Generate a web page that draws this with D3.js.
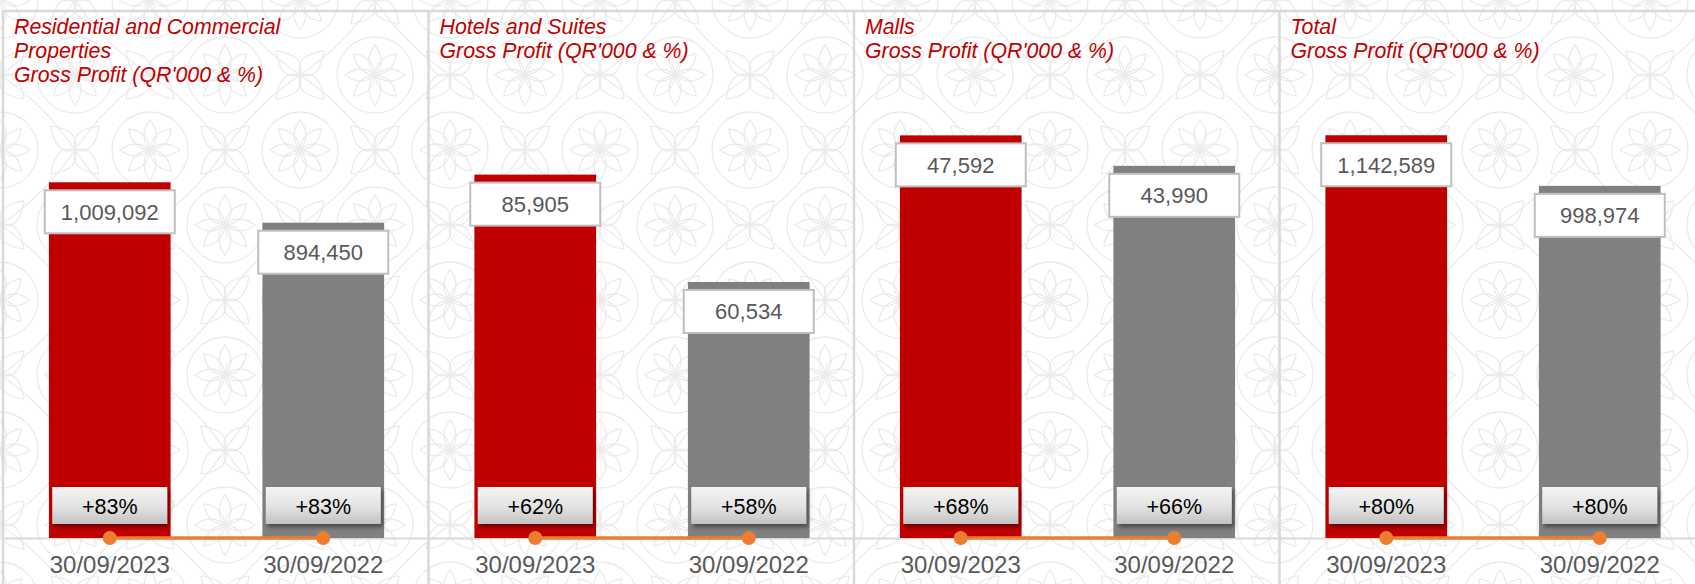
<!DOCTYPE html>
<html>
<head>
<meta charset="utf-8">
<script src="https://cdn.jsdelivr.net/npm/d3@7"></script>
<style>
  html, body { margin: 0; padding: 0; background: #ffffff; }
  svg { display: block; }
  text { font-family: "Liberation Sans", Arial, sans-serif; }
</style>
</head>
<body>
<svg id="chart" width="1695" height="584"></svg>
<script>
// ---------- data ----------
const panelTitles = [
  ["Residential and Commercial", "Properties", "Gross Profit (QR'000 & %)"],
  ["Hotels and Suites", "Gross Profit (QR'000 & %)"],
  ["Malls", "Gross Profit (QR'000 & %)"],
  ["Total", "Gross Profit (QR'000 & %)"]
];
const categories = ["30/09/2023", "30/09/2022"];
const profit2023 = [1009092, 85905, 47592, 1142589];
const profit2022 = [894450, 60534, 43990, 998974];
const margin2023 = [83, 62, 68, 80];
const margin2022 = [83, 58, 66, 80];
const axisMax = [1200000, 100000, 50000, 1200000];

// ---------- layout ----------
const W = 1695, H = 584;
const panelX0 = 3, panelStep = 425.5, panelW = 427;
const topY = 11, baseY = 538, plotTop = 115;
const barColors = ["#c00000", "#808080"];
const orange = "#ed7d31";

const svg = d3.select("#chart");
const defs = svg.append("defs");

// background ornament pattern (decorative)
const T = 150, h = T / 2;
const pat = defs.append("pattern")
  .attr("id", "orn").attr("patternUnits", "userSpaceOnUse")
  .attr("width", T).attr("height", T);
pat.append("rect").attr("width", T).attr("height", T).attr("fill", "#ffffff");
const pg = pat.append("g").attr("fill", "none").attr("stroke", "#ebebeb").attr("stroke-width", 1.3);
[[h, h], [0, 0], [T, 0], [0, T], [T, T]].forEach(([cx, cy]) => {
  for (let k = 0; k < 8; k++) {
    pg.append("path")
      .attr("d", `M${cx},${cy} Q${cx + 12},${cy - 14} ${cx},${cy - 30} Q${cx - 12},${cy - 14} ${cx},${cy}`)
      .attr("transform", `rotate(${k * 45},${cx},${cy})`);
  }
  pg.append("circle").attr("cx", cx).attr("cy", cy).attr("r", 38);
});
[[h, 0], [0, h], [T, h], [h, T]].forEach(([cx, cy]) => {
  for (let k = 0; k < 4; k++) {
    pg.append("path")
      .attr("d", `M${cx},${cy - 34} Q${cx + 18},${cy - 10} ${cx},${cy} Q${cx - 18},${cy - 10} ${cx},${cy - 34}`)
      .attr("transform", `rotate(${k * 90 + 45},${cx},${cy})`);
  }
});
pg.append("path").attr("d", `M0,${h} Q${h*0.6},${h*0.6} ${h},0 M${h},0 Q${T-h*0.6},${h*0.6} ${T},${h} M${T},${h} Q${T-h*0.6},${T-h*0.6} ${h},${T} M${h},${T} Q${h*0.6},${T-h*0.6} 0,${h}`);

svg.append("rect").attr("width", W).attr("height", H).attr("fill", "url(#orn)");

// gradient & shadow for % labels
const grad = defs.append("linearGradient").attr("id", "pctGrad")
  .attr("x1", 0).attr("y1", 0).attr("x2", 0).attr("y2", 1);
grad.append("stop").attr("offset", "0%").attr("stop-color", "#f4f4f4");
grad.append("stop").attr("offset", "55%").attr("stop-color", "#e2e2e2");
grad.append("stop").attr("offset", "100%").attr("stop-color", "#c2c2c2");
const shadow = defs.append("filter").attr("id", "shd")
  .attr("x", "-20%").attr("y", "-30%").attr("width", "150%").attr("height", "180%");
shadow.append("feDropShadow").attr("dx", 2).attr("dy", 3).attr("stdDeviation", 2)
  .attr("flood-color", "#000").attr("flood-opacity", 0.45);

// frame lines
svg.append("line").attr("x1", panelX0).attr("x2", W).attr("y1", topY).attr("y2", topY)
  .attr("stroke", "#d9d9d9").attr("stroke-width", 2.5);

const fmt = d3.format(",");

panelTitles.forEach((title, i) => {
  const x0 = panelX0 + i * panelStep;
  const g = svg.append("g");

  g.append("line").attr("x1", x0).attr("x2", x0).attr("y1", topY).attr("y2", H)
    .attr("stroke", "#d9d9d9").attr("stroke-width", 2.5);

  const x = d3.scaleBand().domain(categories).range([x0, x0 + panelW])
    .paddingInner(0.43).paddingOuter(0.215);
  const y = d3.scaleLinear().domain([0, axisMax[i]]).range([baseY, plotTop]);

  const values = [profit2023[i], profit2022[i]];
  const margins = [margin2023[i], margin2022[i]];

  // title
  const t = g.append("text").attr("x", x0 + 11).attr("y", 34)
    .attr("fill", "#c00000").attr("font-style", "italic").attr("font-size", 21.3);
  title.forEach((line, k) => {
    t.append("tspan").attr("x", x0 + 11).attr("dy", k === 0 ? 0 : 23.8).text(line);
  });

  // x axis
  const ax = g.append("g").attr("transform", `translate(0,${baseY})`)
    .call(d3.axisBottom(x).tickSize(0).tickSizeOuter(0).tickPadding(18));
  ax.select(".domain").attr("stroke", "#d9d9d9").attr("stroke-width", 2);
  ax.selectAll("text").attr("font-size", 24).attr("fill", "#595959")
    .attr("font-family", "'Liberation Sans', Arial, sans-serif");

  // bars
  g.selectAll(".bar").data(categories).join("rect")
    .attr("x", d => x(d)).attr("width", x.bandwidth())
    .attr("y", (d, j) => y(values[j])).attr("height", (d, j) => baseY - y(values[j]))
    .attr("fill", (d, j) => barColors[j]);

  // value labels
  const bw = 130, bh = 43;
  categories.forEach((c, j) => {
    const cx = x(c) + x.bandwidth() / 2;
    const top = y(values[j]) + 8;
    g.append("rect").attr("x", cx - bw / 2).attr("y", top).attr("width", bw).attr("height", bh)
      .attr("fill", "#ffffff").attr("stroke", "#bfbfbf").attr("stroke-width", 2);
    g.append("text").attr("x", cx).attr("y", top + 29.5).attr("text-anchor", "middle")
      .attr("font-size", 22).attr("fill", "#595959").text(fmt(values[j]));
  });

  // margin line (percent values on the same axis)
  const line = d3.line().x(d => x(d.c) + x.bandwidth() / 2).y(d => y(d.v / 100));
  const pts = categories.map((c, j) => ({ c, v: margins[j] }));
  g.append("path").datum(pts).attr("d", line).attr("fill", "none")
    .attr("stroke", orange).attr("stroke-width", 3.5);
  g.selectAll(".dot").data(pts).join("circle")
    .attr("cx", d => x(d.c) + x.bandwidth() / 2).attr("cy", d => y(d.v / 100))
    .attr("r", 7).attr("fill", orange);

  // margin labels
  const pw = 115, ph = 37;
  pts.forEach(d => {
    const cx = x(d.c) + x.bandwidth() / 2;
    const top = y(d.v / 100) - 51;
    g.append("rect").attr("x", cx - pw / 2).attr("y", top).attr("width", pw).attr("height", ph)
      .attr("fill", "url(#pctGrad)").attr("filter", "url(#shd)");
    g.append("text").attr("x", cx).attr("y", top + 27).attr("text-anchor", "middle")
      .attr("font-size", 21.5).attr("fill", "#000000").text("+" + d.v + "%");
  });
});
</script>
</body>
</html>
